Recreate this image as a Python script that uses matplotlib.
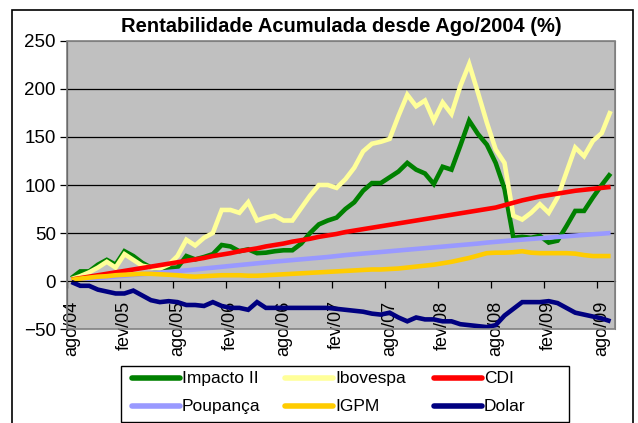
import matplotlib
matplotlib.use("Agg")
import matplotlib.pyplot as plt
from matplotlib.patches import Rectangle
from matplotlib.lines import Line2D

plt.rcParams['font.family'] = ['Liberation Sans', 'DejaVu Sans']

months = ["ago/04", "set/04", "out/04", "nov/04", "dez/04", "jan/05", "fev/05", "mar/05", "abr/05", "mai/05",
          "jun/05", "jul/05", "ago/05", "set/05", "out/05", "nov/05", "dez/05", "jan/06", "fev/06", "mar/06",
          "abr/06", "mai/06", "jun/06", "jul/06", "ago/06", "set/06", "out/06", "nov/06", "dez/06", "jan/07",
          "fev/07", "mar/07", "abr/07", "mai/07", "jun/07", "jul/07", "ago/07", "set/07", "out/07", "nov/07",
          "dez/07", "jan/08", "fev/08", "mar/08", "abr/08", "mai/08", "jun/08", "jul/08", "ago/08", "set/08",
          "out/08", "nov/08", "dez/08", "jan/09", "fev/09", "mar/09", "abr/09", "mai/09", "jun/09", "jul/09",
          "ago/09", "set/09"]

impacto = [3, 10, 10, 17, 22, 17, 31, 26, 19, 14, 13, 13.5, 14, 26, 22.5, 25, 28, 37.5, 36, 31,
           33, 29, 29.5, 31, 32, 32, 39, 50, 59, 63, 66, 75, 82, 94, 102, 102, 108, 114, 123, 116,
           112, 101, 119, 116, 141, 167, 153, 142, 123, 96, 45, 46, 45, 47, 40, 42, 57, 73, 73, 87,
           100, 112]
ibovespa = [2, 5, 9, 14, 20, 14, 28, 22, 16, 14, 13, 17, 26, 43, 37, 45, 50, 74, 74, 71,
            82, 63, 66, 68, 63, 63, 76, 89, 100, 100, 97, 106, 118, 135, 143, 145, 148, 172, 194, 182,
            188, 167, 186, 174, 203, 226, 196, 165, 137, 123, 68, 64, 71, 80, 71, 87, 113, 139, 130, 146,
            154, 177]
cdi = [1.5, 3, 4.5, 6, 7.5, 9, 10.5, 12, 13.5, 15, 16.5, 18, 19.5, 21, 22.5, 24,
       26, 27.5, 29, 31, 32.5, 34, 36, 37.5, 39, 41, 42.5, 44, 46, 47.5, 49, 51,
       52.5, 54, 55.5, 57, 58.5, 60, 61.5, 63, 64.5, 66, 67.5, 69, 70.5, 72, 73.5, 75,
       76.5, 79, 81.5, 84, 86, 88, 89.5, 91, 92.5, 94, 95, 96, 97, 98]
poupanca = [0.7, 1.5, 2.3, 3.1, 3.9, 4.7, 5.5, 6.3, 7.1, 7.9, 8.7, 9.5, 10.3, 11.1, 12, 13,
            13.9, 14.8, 15.7, 16.6, 17.5, 18.4, 19.3, 20.2, 21, 21.8, 22.6, 23.4, 24.2, 25, 26, 27,
            27.8, 28.6, 29.4, 30.2, 31, 31.8, 32.6, 33.4, 34.2, 35, 35.8, 36.6, 37.4, 38.2, 39, 40,
            40.8, 41.6, 42.4, 43.1, 43.8, 44.5, 45.2, 45.9, 46.6, 47.3, 48, 48.7, 49.3, 50]
igpm = [1.2, 2.5, 3.5, 4.5, 5, 6, 6.5, 7, 7.5, 7.5, 7, 6.5, 6, 5, 4.5, 5, 5.5, 6, 6, 6,
        5.5, 5.5, 6, 6.5, 7, 7.5, 8, 8.5, 9, 9.5, 10, 10.5, 11, 11.5, 12, 12, 12.5, 13, 14, 15,
        16, 17, 18.5, 20, 22, 24, 26.5, 29, 29.5, 29.5, 30, 31, 29.5, 29, 29, 29, 29, 28.5, 27, 26,
        26, 26]
dolar = [-1, -5, -5, -9, -11, -13, -13, -10, -15, -20, -22, -21, -22, -25, -25, -26, -22, -26, -28, -28,
         -30, -22, -28, -28, -28, -28, -28, -28, -28, -28, -29, -30, -31, -32, -34, -35, -33, -38, -42, -38,
         -40, -40, -42, -42, -45, -46, -47, -48, -46, -36, -29, -22, -22, -22, -21, -23, -28, -33, -35, -37,
         -39, -42]

series = [("Impacto II", impacto, "#008000"),
          ("Ibovespa", ibovespa, "#FFFF99"),
          ("CDI", cdi, "#FF0000"),
          ("Poupança", poupanca, "#9999FF"),
          ("IGPM", igpm, "#FFCC00"),
          ("Dolar", dolar, "#000080")]

W, H = 638, 423
fig = plt.figure(figsize=(W / 100, H / 100), dpi=100)
fig.patch.set_facecolor("white")

ax = fig.add_axes([67 / W, 1 - 329 / H, (615 - 67) / W, (329 - 41) / H])
ax.set_facecolor("#C0C0C0")

x = list(range(len(months)))
for name, vals, col in series:
    ax.plot(x, vals, color=col, lw=3.3, solid_joinstyle="miter", solid_capstyle="butt", zorder=3)

for g in [50, 100, 150, 200]:
    ax.axhline(g, color="black", lw=0.9, zorder=1)

ax.set_xlim(-0.5, len(months) - 0.5)
ax.set_ylim(-50, 250)
ax.set_yticks(range(-50, 251, 50))
ax.tick_params(axis="y", direction="out", length=5, width=0.9, labelsize=13.5, pad=3)

ax.spines["bottom"].set_position(("data", 0))
ax.spines["bottom"].set_zorder(4)
for s in ["top", "right"]:
    ax.spines[s].set_color("#808080")
ax.spines["left"].set_color("black")

label_idx = list(range(0, len(months), 6))
ax.set_xticks([i - 0.5 for i in label_idx])
ax.set_xticklabels([])
ax.tick_params(axis="x", which="major", direction="out", length=5, width=0.9)
ax.set_xticks(label_idx, minor=True)
ax.set_xticklabels([months[i] for i in label_idx], minor=True, rotation=90, fontsize=13)
ax.tick_params(axis="x", which="minor", length=0, pad=14)

ax.add_patch(Rectangle((0, 0), 1, 1, transform=ax.transAxes, fill=False,
                       edgecolor="#808080", lw=1.2, zorder=5, clip_on=False))

fig.text(341 / W, 1 - 27 / H, "Rentabilidade Acumulada desde Ago/2004 (%)",
         ha="center", va="center", fontsize=14.5, fontweight="bold")

# legend drawn as a box with three columns and two rows, like the Excel legend
fig.add_artist(Rectangle((121 / W, 1 - 422 / H), (569 - 121) / W, (422 - 366) / H,
                         transform=fig.transFigure, fill=False, edgecolor="black", lw=1.0))
col_x = [132, 285, 434]
row_y = [378, 406]
layout = [["Impacto II", "Ibovespa", "CDI"], ["Poupança", "IGPM", "Dolar"]]
colors = {n: c for n, _, c in series}
for r, row in enumerate(layout):
    for c, name in enumerate(row):
        x0 = col_x[c]
        y0 = 1 - row_y[r] / H
        fig.add_artist(Line2D([x0 / W, (x0 + 48) / W], [y0, y0], transform=fig.transFigure,
                              color=colors[name], lw=4, solid_capstyle="round"))
        fig.text((x0 + 50) / W, y0, name, ha="left", va="center", fontsize=12.5)

fig.add_artist(Rectangle((12 / W, -0.01), (633 - 12) / W, 1 - 10 / H + 0.01,
                         transform=fig.transFigure, fill=False, edgecolor="black", lw=1.2))

fig.savefig("out.png", dpi=100, facecolor="white")
